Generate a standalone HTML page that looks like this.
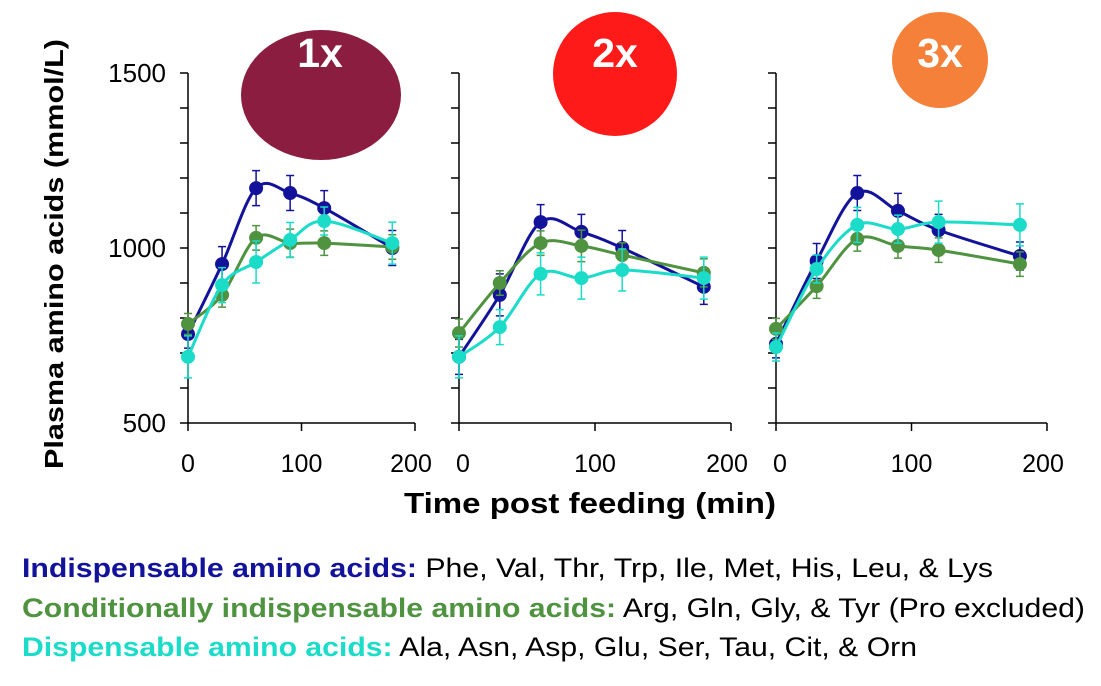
<!DOCTYPE html>
<html><head><meta charset="utf-8"><style>
body{margin:0;background:#fff;width:1101px;height:686px;overflow:hidden}
svg{display:block;font-family:"Liberation Sans",sans-serif}
</style></head><body>
<svg id="chart" width="1101" height="686" viewBox="0 0 1101 686">
<ellipse cx="321" cy="95" rx="80" ry="65" fill="#8B1D40"/>
<text x="320" y="67" font-size="41" font-weight="bold" fill="#fff" text-anchor="middle">1x</text>
<circle cx="615" cy="74" r="62" fill="#FF1A1A"/>
<text x="615" y="67" font-size="41" font-weight="bold" fill="#fff" text-anchor="middle">2x</text>
<circle cx="940" cy="60" r="48" fill="#F4803A"/>
<text x="940" y="67" font-size="41" font-weight="bold" fill="#fff" text-anchor="middle">3x</text>
<g id="axes"></g>
<g id="marks"></g>
<text transform="translate(63,254) rotate(-90)" font-size="26" font-weight="bold" text-anchor="middle" textLength="430" lengthAdjust="spacingAndGlyphs">Plasma amino acids (mmol/L)</text>
<text x="590" y="513" font-size="29" font-weight="bold" text-anchor="middle" textLength="372" lengthAdjust="spacingAndGlyphs">Time post feeding (min)</text>
<text x="22" y="577" font-size="27" textLength="971" lengthAdjust="spacingAndGlyphs"><tspan font-weight="bold" fill="#12129A">Indispensable amino acids:</tspan> Phe, Val, Thr, Trp, Ile, Met, His, Leu, &amp; Lys</text>
<text x="22" y="617" font-size="27" textLength="1063" lengthAdjust="spacingAndGlyphs"><tspan font-weight="bold" fill="#4F9340">Conditionally indispensable amino acids:</tspan> Arg, Gln, Gly, &amp; Tyr (Pro excluded)</text>
<text x="22" y="656" font-size="27" textLength="895" lengthAdjust="spacingAndGlyphs"><tspan font-weight="bold" fill="#1ADCC8">Dispensable amino acids:</tspan> Ala, Asn, Asp, Glu, Ser, Tau, Cit, &amp; Orn</text>
</svg>
<script>
const times=[0,30,60,90,120,180];
const yTicks=[500,1000,1500];
const xTicks=[0,100,200];
const ind1=[754,954,1171,1157,1114,1000];
const cond1=[783,866,1029,1014,1014,1003];
const disp1=[689,894,960,1023,1077,1014];
const ind2=[689,866,1074,1046,1000,889];
const cond2=[757,900,1014,1006,980,929];
const disp2=[689,774,926,914,937,914];
const ind3=[726,963,1157,1106,1051,977];
const cond3=[769,891,1026,1006,994,954];
const disp3=[717,940,1066,1054,1074,1066];
const err1=[[40,50,50,50,50,50],[30,35,35,40,35,35],[60,50,60,50,40,60]];
const err2=[[50,60,50,50,50,50],[40,35,35,45,35,40],[60,50,60,60,60,60]];
const err3=[[40,50,50,50,45,40],[30,35,35,35,35,35],[40,40,50,40,60,60]];
const panels=[{x0:188,x1:415,series:[ind1,cond1,disp1],err:err1,name:'1x'},
{x0:459,x1:731,series:[ind2,cond2,disp2],err:err2,name:'2x'},
{x0:776,x1:1047,series:[ind3,cond3,disp3],err:err3,name:'3x'}];
const colors=['#12129A','#4F9340','#1ADCC8'];
const sNames=['indispensable','conditional','dispensable'];
const NS='http://www.w3.org/2000/svg';
const yS=v=>423-(v-500)*0.35;
function mk(tag,attrs,parent){const e=document.createElementNS(NS,tag);for(const k in attrs)e.setAttribute(k,attrs[k]);parent.appendChild(e);return e;}
const axes=document.getElementById('axes'),marks=document.getElementById('marks');
panels.forEach((p,pi)=>{
 const xS=t=>p.x0+(t-0)*(p.x1-p.x0)/200;
 const ya=mk('line',{x1:p.x0,y1:73,x2:p.x0,y2:423,stroke:'#000','stroke-width':1.5},axes);
 
 
 const xa=mk('line',{x1:p.x0,y1:423,x2:p.x1,y2:423,stroke:'#000','stroke-width':1.5},axes);
 
 
 for(let v=500;v<=1500;v+=100){mk('line',{x1:p.x0-8,y1:yS(v),x2:p.x0,y2:yS(v),stroke:'#000','stroke-width':1.5},axes);}
 xTicks.forEach(t=>{
  mk('line',{x1:xS(t),y1:423,x2:xS(t),y2:431,stroke:'#000','stroke-width':1.5},axes);
  const tx=mk('text',{x:xS(t)+(t===0&&pi>0?4:0)-(t===200?4:0),y:472,'font-size':25,'text-anchor':'middle'},axes);
  tx.textContent=t;
  
  
 });
 if(pi===0){yTicks.forEach(v=>{
  const tx=mk('text',{x:166,y:yS(v)+9,'font-size':26,'text-anchor':'end'},axes);
  tx.textContent=v;
  
  
 });}
 p.series.forEach((s,si)=>{
  const pts=s.map((v,i)=>[xS(times[i]),yS(v)]);
  let d='M'+pts[0][0]+','+pts[0][1];
  for(let i=0;i<pts.length-1;i++){
   const p0=pts[Math.max(0,i-1)],p1=pts[i],p2=pts[i+1],p3=pts[Math.min(pts.length-1,i+2)];
   const c1=[p1[0]+(p2[0]-p0[0])/6,p1[1]+(p2[1]-p0[1])/6],c2=[p2[0]-(p3[0]-p1[0])/6,p2[1]-(p3[1]-p1[1])/6];
   d+=' C'+c1+' '+c2+' '+p2;
  }
  const g=mk('g',{},marks);
  
  
  s.forEach((v,i)=>{
   const e=p.err[si][i],x=xS(times[i]);
   mk('path',{d:`M${x},${yS(v+e)}V${yS(v-e)}M${x-4},${yS(v+e)}h8M${x-4},${yS(v-e)}h8`,stroke:colors[si],'stroke-width':1.5,fill:'none'},g);
  });
  mk('path',{d:d,stroke:colors[si],'stroke-width':3,fill:'none'},g);
  s.forEach((v,i)=>{
   const c=mk('circle',{cx:xS(times[i]),cy:yS(v),r:7,fill:colors[si]},g);
   
   
  });
 });
});
</script>
</body></html>
